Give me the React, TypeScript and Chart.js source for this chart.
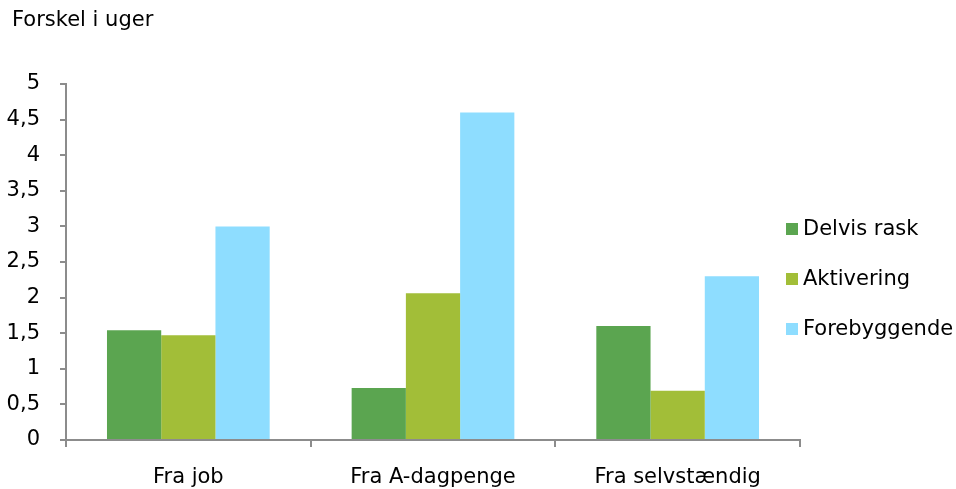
import React, { useEffect, useRef } from "react";
import { Chart, registerables } from "chart.js";

Chart.register(...registerables);

const categories = ["Fra job", "Fra A-dagpenge", "Fra selvstændig"];
const seriesNames = ["Delvis rask", "Aktivering", "Forebyggende"];
const delvisRask = [1.54, 0.73, 1.6];
const aktivering = [1.47, 2.06, 0.69];
const forebyggende = [3.0, 4.6, 2.3];
const colors = ["#5BA550", "#A2BE38", "#8EDDFF"];
const yTitle = "Forskel i uger";

const FONT = "'DejaVu Sans', Verdana, sans-serif";
const FS = 21;

const textPlugin = {
  id: "customLegendTitle",
  afterDraw(chart: any) {
    const ctx = chart.ctx;
    ctx.save();
    ctx.font = `${FS}px ${FONT}`;
    ctx.textBaseline = "middle";
    ctx.textAlign = "left";
    ctx.fillStyle = "#000";
    ctx.fillText(yTitle, 12, 21);
    chart.data.datasets.forEach((ds: any, i: number) => {
      const cy = 229 + i * 50;
      ctx.fillStyle = ds.backgroundColor;
      ctx.fillRect(786, cy - 6, 12, 12);
      ctx.fillStyle = "#000";
      ctx.fillText(ds.label, 803, cy + 1);
    });
    ctx.restore();
  },
};

export default function App() {
  const ref = useRef<HTMLCanvasElement>(null);
  useEffect(() => {
    document.body.style.margin = "0";
    const chart = new Chart(ref.current!, {
      type: "bar",
      data: {
        labels: categories,
        datasets: [delvisRask, aktivering, forebyggende].map((d, i) => ({
          label: seriesNames[i],
          data: d,
          backgroundColor: colors[i],
          borderWidth: 0,
          categoryPercentage: 0.665,
          barPercentage: 1,
        })),
      },
      options: {
        animation: false,
        responsive: false,
        maintainAspectRatio: false,
        layout: { padding: { left: 0, right: 156, top: 84, bottom: 0 } },
        plugins: {
          legend: { display: false },
          tooltip: { enabled: false },
          title: { display: false },
        },
        scales: {
          x: {
            grid: {
              drawOnChartArea: false,
              offset: true,
              tickLength: 7,
              color: "#8c8c8c",
              lineWidth: 2,
            },
            border: { color: "#8c8c8c", width: 2 },
            ticks: {
              color: "#000",
              padding: 18,
              font: { family: FONT, size: FS },
            },
            afterFit: (s: any) => {
              s.height = 49;
            },
          },
          y: {
            min: 0,
            max: 5,
            grid: {
              drawOnChartArea: false,
              tickLength: 6,
              color: "#8c8c8c",
              lineWidth: 2,
            },
            border: { color: "#8c8c8c", width: 2 },
            ticks: {
              stepSize: 0.5,
              color: "#000",
              padding: 20,
              font: { family: FONT, size: FS },
              callback: (v: any) => String(v).replace(".", ","),
            },
            afterFit: (s: any) => {
              s.width = 66;
            },
          },
        },
      },
      plugins: [textPlugin],
    });
    return () => chart.destroy();
  }, []);
  return (
    <div style={{ width: 956, height: 489 }}>
      <canvas ref={ref} width={956} height={489} style={{ display: "block" }} />
    </div>
  );
}
